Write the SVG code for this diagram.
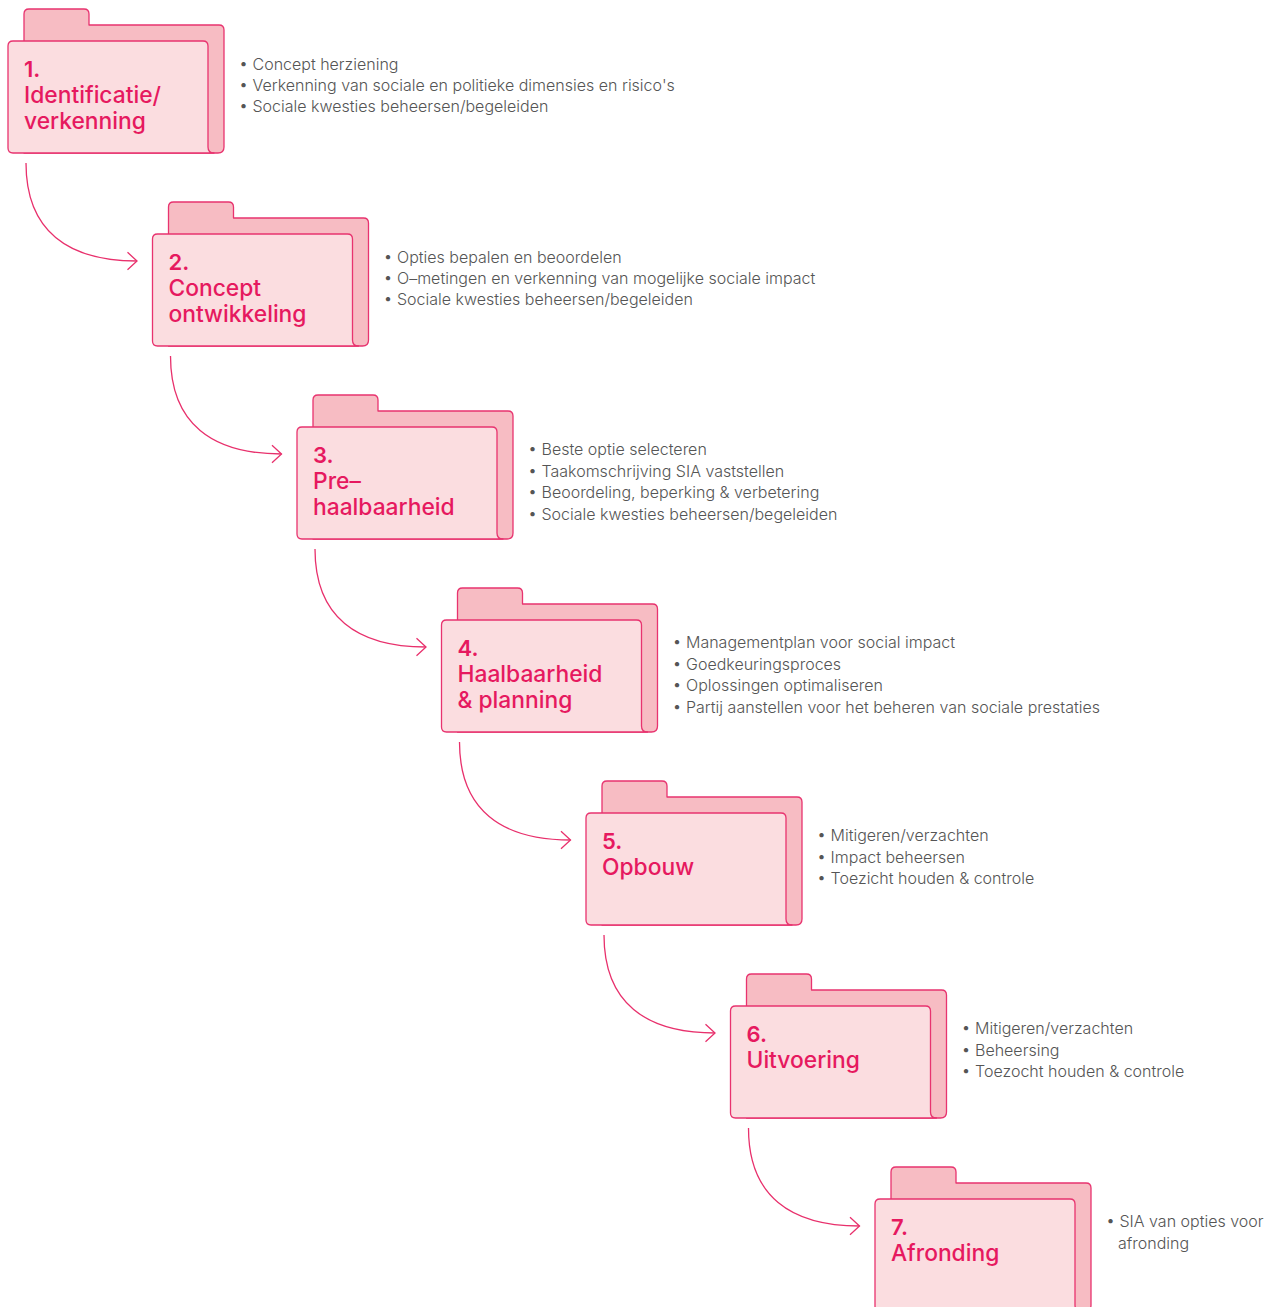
<svg xmlns="http://www.w3.org/2000/svg" width="1278" height="1307" viewBox="0 0 1278 1307">
<style>
.back{fill:#f7bcc3;stroke:#e8336f;stroke-width:1.3;stroke-linejoin:round}
.front{fill:#fbdde0;stroke:#e8336f;stroke-width:1.3;stroke-linejoin:round}
.num{font-family:Inter,"Noto Sans",sans-serif;font-size:22px;font-weight:600;fill:#e6195f}
.ttl{font-family:Inter,"Noto Sans",sans-serif;font-size:22.8px;font-weight:500;fill:#e6195f}
.bul{font-family:Inter,"Noto Sans",sans-serif;font-size:16px;font-weight:300;fill:#555555}
.conn{fill:none;stroke:#e8306c;stroke-width:1.3}
</style>
<defs>
<marker id="arr" markerUnits="userSpaceOnUse" markerWidth="20" markerHeight="20" refX="0" refY="0" viewBox="-12 -10 14 20" orient="auto" overflow="visible">
<path d="M-9.5,-8.7 L0,0 L-9.5,8.7" fill="none" stroke="#e8306c" stroke-width="1.3"/>
</marker>
<g id="folder">
<path class="back" d="M16,112 V-27 Q16,-32 21,-32 H76 Q81,-32 81,-27 V-16 H211 Q216,-16 216,-11 V106 Q216,112 210,112 Z"/>
<path class="front" d="M0,5 Q0,0 5,0 H195 Q200,0 200,5 V106 Q200,112 206,112 H5 Q0,112 0,107 Z"/>
</g>
</defs>

<g id="connectors">
<path class="conn" marker-end="url(#arr)" transform="translate(8,41)" d="M18,122 C18,190 60,220 129,220"/>
<path class="conn" marker-end="url(#arr)" transform="translate(152.5,234)" d="M18,122 C18,190 60,220 129,220"/>
<path class="conn" marker-end="url(#arr)" transform="translate(297,427)" d="M18,122 C18,190 60,220 129,220"/>
<path class="conn" marker-end="url(#arr)" transform="translate(441.5,620)" d="M18,122 C18,190 60,220 129,220"/>
<path class="conn" marker-end="url(#arr)" transform="translate(586,813)" d="M18,122 C18,190 60,220 129,220"/>
<path class="conn" marker-end="url(#arr)" transform="translate(730.5,1006)" d="M18,122 C18,190 60,220 129,220"/>
</g>

<g id="node1" transform="translate(8,41)">
<use href="#folder"/>
<text class="num" x="16" y="36">1.</text>
<text class="ttl" x="16" y="62">Identificatie/</text>
<text class="ttl" x="16" y="88">verkenning</text>
<text class="bul" x="231" y="29">• Concept herziening</text>
<text class="bul" x="231" y="50">• Verkenning van sociale en politieke dimensies en risico's</text>
<text class="bul" x="231" y="71">• Sociale kwesties beheersen/begeleiden</text>
</g>

<g id="node2" transform="translate(152.5,234)">
<use href="#folder"/>
<text class="num" x="16" y="36">2.</text>
<text class="ttl" x="16" y="62">Concept</text>
<text class="ttl" x="16" y="88">ontwikkeling</text>
<text class="bul" x="231" y="29">• Opties bepalen en beoordelen</text>
<text class="bul" x="231" y="50">• O–metingen en verkenning van mogelijke sociale impact</text>
<text class="bul" x="231" y="71">• Sociale kwesties beheersen/begeleiden</text>
</g>

<g id="node3" transform="translate(297,427)">
<use href="#folder"/>
<text class="num" x="16" y="36">3.</text>
<text class="ttl" x="16" y="62">Pre–</text>
<text class="ttl" x="16" y="88">haalbaarheid</text>
<text class="bul" x="231" y="28">• Beste optie selecteren</text>
<text class="bul" x="231" y="49.5">• Taakomschrijving SIA vaststellen</text>
<text class="bul" x="231" y="71">• Beoordeling, beperking &amp; verbetering</text>
<text class="bul" x="231" y="92.5">• Sociale kwesties beheersen/begeleiden</text>
</g>

<g id="node4" transform="translate(441.5,620)">
<use href="#folder"/>
<text class="num" x="16" y="36">4.</text>
<text class="ttl" x="16" y="62">Haalbaarheid</text>
<text class="ttl" x="16" y="88">&amp; planning</text>
<text class="bul" x="231" y="28">• Managementplan voor social impact</text>
<text class="bul" x="231" y="49.5">• Goedkeuringsproces</text>
<text class="bul" x="231" y="71">• Oplossingen optimaliseren</text>
<text class="bul" x="231" y="92.5">• Partij aanstellen voor het beheren van sociale prestaties</text>
</g>

<g id="node5" transform="translate(586,813)">
<use href="#folder"/>
<text class="num" x="16" y="36">5.</text>
<text class="ttl" x="16" y="62">Opbouw</text>
<text class="bul" x="231" y="28">• Mitigeren/verzachten</text>
<text class="bul" x="231" y="49.5">• Impact beheersen</text>
<text class="bul" x="231" y="71">• Toezicht houden &amp; controle</text>
</g>

<g id="node6" transform="translate(730.5,1006)">
<use href="#folder"/>
<text class="num" x="16" y="36">6.</text>
<text class="ttl" x="16" y="62">Uitvoering</text>
<text class="bul" x="231" y="28">• Mitigeren/verzachten</text>
<text class="bul" x="231" y="49.5">• Beheersing</text>
<text class="bul" x="231" y="71">• Toezocht houden &amp; controle</text>
</g>

<g id="node7" transform="translate(875,1199)">
<use href="#folder"/>
<text class="num" x="16" y="36">7.</text>
<text class="ttl" x="16" y="62">Afronding</text>
<text class="bul" x="231" y="28">• SIA van opties voor</text>
<text class="bul" x="243" y="49.5">afronding</text>
</g>
</svg>
